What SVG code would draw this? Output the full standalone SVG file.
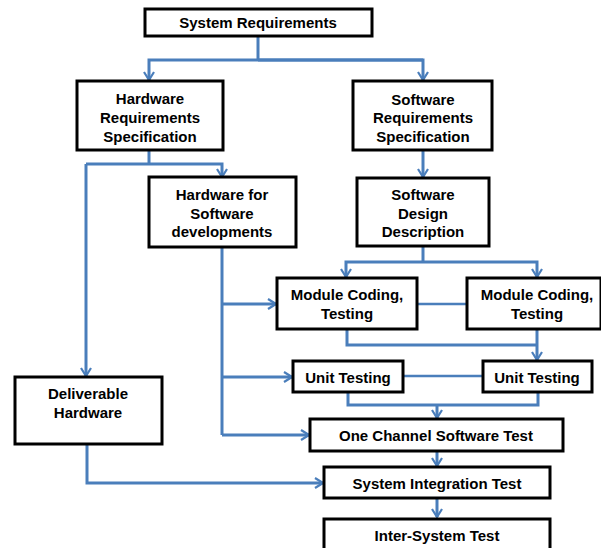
<svg xmlns="http://www.w3.org/2000/svg" width="601" height="548" viewBox="0 0 601 548">
<style>
.box{fill:#fff;stroke:#000;stroke-width:3}
.t{font-family:"Liberation Sans",Arial,sans-serif;font-weight:bold;font-size:15px;fill:#000;text-anchor:middle;dominant-baseline:central}
.c{fill:none;stroke:#4a7ebb;stroke-width:3;stroke-linejoin:miter}
.a{marker-end:url(#arr)}
.thin{fill:none;stroke:#4a7ebb;stroke-width:2.5}
</style>
<defs>
<marker id="arr" viewBox="0 0 10 12" refX="9" refY="6" markerWidth="10" markerHeight="12" markerUnits="userSpaceOnUse" orient="auto">
<path d="M1,1 L9,6 L1,11" fill="none" stroke="#4a7ebb" stroke-width="2.2"/>
</marker>
</defs>
<rect width="601" height="548" fill="#fff"/>
<g id="connectors">
<path class="c" d="M258,36 V60"/>
<path class="c a" d="M423,60 H149 V80"/>
<path class="c a" d="M258,60 H423 V80"/>
<path class="c" d="M149,151 V164"/>
<path class="c a" d="M86,164 H222 V177"/>
<path class="c a" d="M86,164 V376"/>
<path class="c a" d="M423,151 V177"/>
<path class="c" d="M423,247 V262"/>
<path class="c a" d="M423,262 H346 V277"/>
<path class="c a" d="M423,262 H537 V277"/>
<path class="c" d="M222,248 V435"/>
<path class="c a" d="M222,304 H276"/>
<path class="thin" d="M417,304 H467"/>
<path class="c" d="M347,329 V345 H537"/>
<path class="c a" d="M537,329 V360"/>
<path class="c a" d="M222,377 H292"/>
<path class="thin" d="M403,376 H483"/>
<path class="c" d="M348,392 V405 H538 V392"/>
<path class="c a" d="M437,405 V418"/>
<path class="c a" d="M222,435 H309"/>
<path class="c a" d="M437,451 V466"/>
<path class="c a" d="M87,444 V483 H323"/>
<path class="c a" d="M437,498 V517"/>
</g>
<g id="system-requirements"><rect class="box" x="145" y="9" width="227" height="27"/><text class="t" x="258" y="22">System Requirements</text></g>
<g id="hw-req-spec"><rect class="box" x="77" y="81" width="146" height="69"/><text class="t" x="150" y="98">Hardware</text><text class="t" x="150" y="117">Requirements</text><text class="t" x="150" y="136">Specification</text></g>
<g id="sw-req-spec"><rect class="box" x="353" y="81" width="139" height="69"/><text class="t" x="423" y="99">Software</text><text class="t" x="423" y="117">Requirements</text><text class="t" x="423" y="136">Specification</text></g>
<g id="hw-for-sw"><rect class="box" x="149" y="177" width="147" height="70"/><text class="t" x="222" y="194">Hardware for</text><text class="t" x="222" y="213">Software</text><text class="t" x="222" y="231">developments</text></g>
<g id="sw-design-desc"><rect class="box" x="357" y="178" width="132" height="68"/><text class="t" x="423" y="194">Software</text><text class="t" x="423" y="213">Design</text><text class="t" x="423" y="231">Description</text></g>
<g id="module-coding-1"><rect class="box" x="277" y="278" width="140" height="51"/><text class="t" x="347" y="294">Module Coding,</text><text class="t" x="347" y="313">Testing</text></g>
<g id="module-coding-2"><rect class="box" x="467" y="278" width="134" height="51"/><text class="t" x="537" y="294">Module Coding,</text><text class="t" x="537" y="313">Testing</text></g>
<g id="unit-testing-1"><rect class="box" x="293" y="361" width="110" height="31"/><text class="t" x="348" y="377">Unit Testing</text></g>
<g id="unit-testing-2"><rect class="box" x="483" y="361" width="109" height="31"/><text class="t" x="537" y="377">Unit Testing</text></g>
<g id="deliverable-hardware"><rect class="box" x="15" y="377" width="147" height="67"/><text class="t" x="88" y="393">Deliverable</text><text class="t" x="88" y="412">Hardware</text></g>
<g id="one-channel-test"><rect class="box" x="310" y="419" width="253" height="32"/><text class="t" x="436" y="435">One Channel Software Test</text></g>
<g id="system-integration-test"><rect class="box" x="324" y="467" width="226" height="31"/><text class="t" x="437" y="483">System Integration Test</text></g>
<g id="inter-system-test"><rect class="box" x="324" y="519" width="226" height="40"/><text class="t" x="437" y="535">Inter-System Test</text></g>
</svg>
